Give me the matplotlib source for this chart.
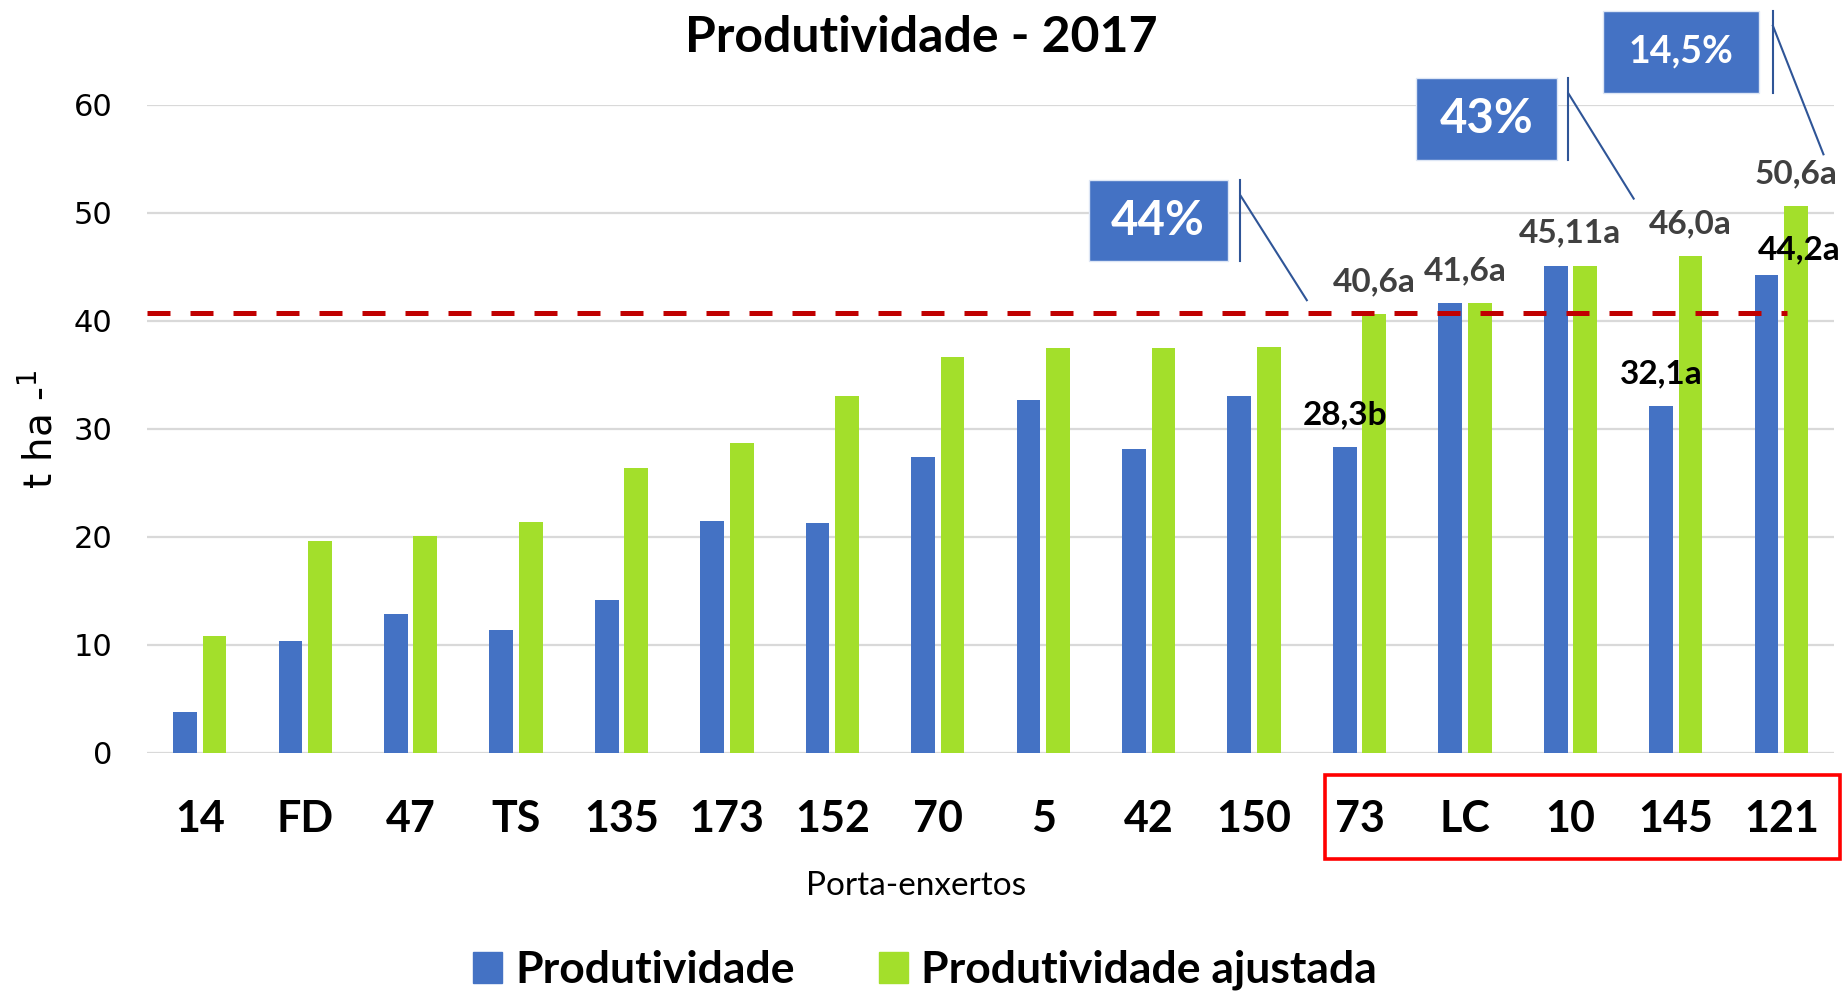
import matplotlib
matplotlib.use("Agg")
import matplotlib.pyplot as plt
from matplotlib.patches import Rectangle, Patch
import numpy as np

plt.rcParams['font.family'] = ['Lato', 'DejaVu Sans']

# dados
categorias = ['14', 'FD', '47', 'TS', '135', '173', '152', '70', '5', '42',
              '150', '73', 'LC', '10', '145', '121']
produtividade = [3.8, 10.4, 12.9, 11.4, 14.2, 21.5, 21.3, 27.4, 32.7, 28.1,
                 33.0, 28.3, 41.6, 45.1, 32.1, 44.2]
prod_ajustada = [10.8, 19.6, 20.1, 21.4, 26.4, 28.7, 33.0, 36.6, 37.5, 37.5,
                 37.6, 40.6, 41.6, 45.1, 46.0, 50.6]
media_ref = 40.7
rotulos_ajust = {11: '40,6a', 12: '41,6a', 13: '45,11a', 14: '46,0a', 15: '50,6a'}
rotulos_prod = {11: '28,3b', 14: '32,1a', 15: '44,2a'}
ganhos = ['44%', '43%', '14,5%']

AZUL = '#4472C4'
VERDE = '#A3DF2B'

fig = plt.figure(figsize=(18.43, 9.93), dpi=100)
ax = fig.add_axes([147/1843, 1 - 753/993, 1687/1843, 648.4/993])

x = np.arange(len(categorias))
w = 0.225
ax.bar(x - 0.14, produtividade, w, color=AZUL, zorder=2)
ax.bar(x + 0.14, prod_ajustada, w, color=VERDE, zorder=2)

ax.set_xlim(-0.5, len(categorias) - 0.5)
ax.set_ylim(0, 60)
ax.set_yticks(range(0, 61, 10))
ax.yaxis.grid(True, color='#D9D9D9', lw=1.6, zorder=0)
for s in ax.spines.values():
    s.set_visible(False)
ax.tick_params(axis='y', length=0, pad=25, labelsize=22)
for t in ax.get_yticklabels():
    t.set_family('DejaVu Sans')
ax.set_xticks(x)
ax.set_xticklabels(categorias, fontsize=31, fontweight='bold')
ax.tick_params(axis='x', length=0, pad=33)

# linha de referencia
ax.plot([-0.5, 15.05], [media_ref, media_ref], color='#C00000', lw=3.6,
        dashes=(4.6, 4.0), zorder=3)

# rotulos das barras
for i, txt in rotulos_ajust.items():
    xi = i if i in (12, 13) else i + 0.14
    ax.text(xi, prod_ajustada[i] + 3.0, txt, ha='center', va='center',
            fontsize=24, fontweight='bold', color='#404040', zorder=4)
for i, txt in rotulos_prod.items():
    xi = i + 0.17 if i == 15 else i - 0.14
    dy = 2.4 if i == 15 else 3.0
    ax.text(xi, produtividade[i] + dy, txt, ha='center', va='center',
            fontsize=24, fontweight='bold', color='black', zorder=4)

# caixas de ganho
caixas = [(8.43, 45.5, 1.32, 7.5, 34, 9.87, (51.6, 41.9), (10.5,)),
          (11.54, 54.9, 1.33, 7.6, 34, 12.98, (61.05, 51.3), (13.6,)),
          (13.31, 61.1, 1.48, 7.6, 27, 14.92, (67.3, 55.4), (15.4,))]
for txt, (x0, y0, bw, bh, fs, xv, (ys, ye), (xe,)) in zip(ganhos, caixas):
    ax.add_patch(Rectangle((x0, y0), bw, bh, facecolor=AZUL, edgecolor='#DDE6F5',
                           lw=1, clip_on=False, zorder=5))
    ax.text(x0 + bw/2, y0 + bh/2, txt, ha='center', va='center', color='white',
            fontsize=fs, fontweight='bold', zorder=6, clip_on=False)
    ax.plot([xv, xv], [y0, y0 + bh], color='#2F5597', lw=1.5, clip_on=False, zorder=5)
    ax.plot([xv, xe], [ys, ye], color='#2F5597', lw=1.5, clip_on=False, zorder=5)

# caixa vermelha nos porta-enxertos
fig.add_artist(Rectangle((1325/1843, 1 - 859/993), 515/1843, 84/993,
                         transform=fig.transFigure, fill=False,
                         edgecolor='#FF0000', lw=2.6))

fig.text(0.5, 1 - 37/993, 'Produtividade - 2017', ha='center', va='center',
         fontsize=36, fontweight='bold')
fig.text(0.497, 1 - 886/993, 'Porta-enxertos', ha='center', va='center', fontsize=24)
ax.set_ylabel('t ha -$^{1}$', fontsize=28, family='DejaVu Sans')
ax.yaxis.set_label_coords(-0.052, 0.5)

handles = [Patch(color=AZUL, label='Produtividade'),
           Patch(color=VERDE, label='Produtividade ajustada')]
fig.legend(handles=handles, loc='center', bbox_to_anchor=(0.502, 1 - 970/993),
           ncol=2, frameon=False, prop={'size': 32, 'weight': 'bold'},
           handlelength=0.65, handleheight=0.7, handletextpad=0.3,
           columnspacing=1.9)

fig.savefig('out.png', dpi=100)
